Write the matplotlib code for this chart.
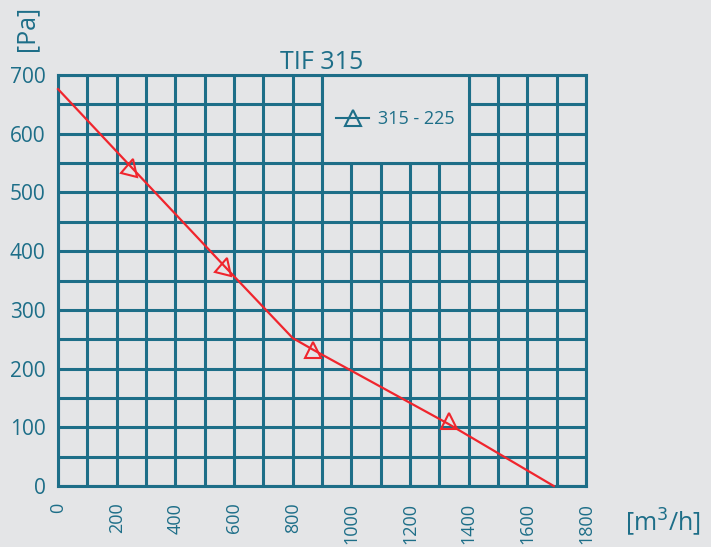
import matplotlib.pyplot as plt
from matplotlib.markers import MarkerStyle
from matplotlib.lines import Line2D
from matplotlib.patches import Rectangle
from matplotlib.transforms import Affine2D

plt.rcParams['font.family'] = ['Open Sans', 'DejaVu Sans']

# curve 315 - 225
flow = [0, 250, 570, 800, 870, 1330, 1690]
pressure = [676, 543, 373, 252, 232, 106, 0]
# marker positions along the curve
mark_flow = [250, 569, 869, 1333]
mark_pressure = [543, 374, 232, 111]
mark_angle = [-15, -15, 0, 0]

x_ticks = list(range(0, 1801, 200))
y_ticks = list(range(0, 701, 100))
series_label = "315 - 225"

bg = "#e4e5e7"
teal = "#1d6e88"
red = "#f0252d"

fig = plt.figure(figsize=(7.11, 5.47), dpi=100, facecolor=bg)
ax = fig.add_axes([0.0816, 0.1115, 0.7426, 0.7514], facecolor=bg)

ax.set_xlim(0, 1800)
ax.set_ylim(0, 700)
ax.set_xticks(range(0, 1801, 100), minor=False)
ax.set_yticks(range(0, 701, 50), minor=False)
ax.set_xticklabels([str(v) if v in x_ticks else "" for v in range(0, 1801, 100)],
                   rotation=90, fontsize=13, color=teal)
ax.set_yticklabels([str(v) if v in y_ticks else "" for v in range(0, 701, 50)],
                   fontsize=15, color=teal)
ax.tick_params(axis='y', length=0, pad=9)
ax.tick_params(axis='x', length=0, pad=12)
ax.grid(True, color=teal, linewidth=2.2)
ax.set_axisbelow(True)
for s in ax.spines.values():
    s.set_color(teal)
    s.set_linewidth(2.2)

# legend box hides the grid
ax.add_patch(Rectangle((900, 550), 500, 150, facecolor=bg, edgecolor=teal,
                       linewidth=2.2, zorder=2))

ax.plot(flow, pressure, color=red, linewidth=1.6, zorder=3, clip_on=False)
for fx, py, ang in zip(mark_flow, mark_pressure, mark_angle):
    m = MarkerStyle('^', transform=Affine2D().rotate_deg(ang))
    ax.plot(fx, py, marker=m, markersize=12, markerfacecolor='none',
            markeredgecolor=red, markeredgewidth=1.5, linestyle='none', zorder=4)

handle = Line2D([], [], color=teal, marker='^', markersize=12, markerfacecolor='none',
                markeredgecolor=teal, markeredgewidth=1.5, linewidth=1.5)
leg = ax.legend([handle], [series_label], loc='center', bbox_to_anchor=(1150, 625),
                bbox_transform=ax.transData, frameon=False, fontsize=13,
                handlelength=1.8, handletextpad=0.5)
for t in leg.get_texts():
    t.set_color(teal)
leg.set_zorder(5)

ax.set_title("TIF 315", fontsize=18, color=teal, pad=2)
fig.text(0.038, 0.99, "[Pa]", rotation=90, fontsize=18, color=teal, ha='center', va='top')
fig.text(0.933, 0.045, "[m$^3$/h]", fontsize=18, color=teal, ha='center', va='center')

fig.savefig("out.png", dpi=100, facecolor=bg)
